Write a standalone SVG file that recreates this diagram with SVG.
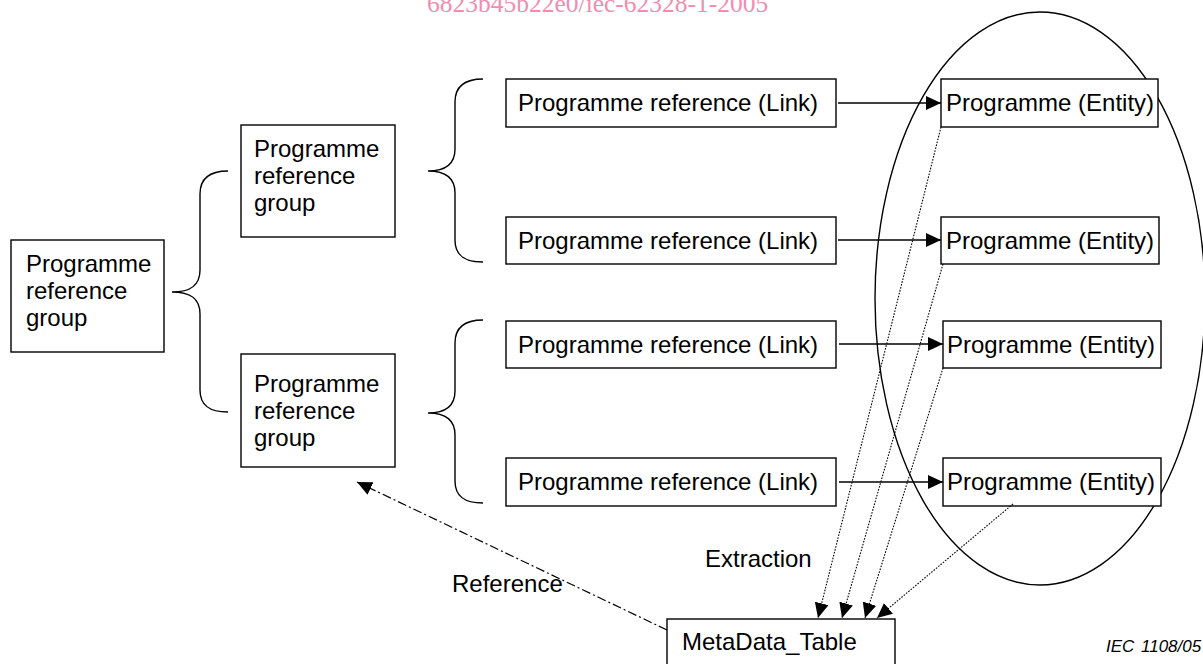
<svg xmlns="http://www.w3.org/2000/svg" width="1203" height="664" viewBox="0 0 1203 664">
<style>
.box{fill:#fff;stroke:#000;stroke-width:1.4}
.t{font-family:"Liberation Sans",Arial,sans-serif;font-size:24px;fill:#000}
.brace{fill:none;stroke:#000;stroke-width:1.4}
.arr{fill:none;stroke:#000;stroke-width:1.4}
.dot{fill:none;stroke:#000;stroke-width:1.1;stroke-dasharray:1.6 1.4}
.dd{fill:none;stroke:#000;stroke-width:1.2;stroke-dasharray:9 3 2 3}
</style>
<defs>
<marker id="ah" markerUnits="userSpaceOnUse" markerWidth="16" markerHeight="14" refX="15" refY="7" orient="auto">
<path d="M0,0 L15,7 L0,14 Z" fill="#000"/>
</marker>
</defs>
<rect width="1203" height="664" fill="#fff"/>
<text x="427" y="12" style="font-family:'Liberation Serif','Times New Roman',serif;font-size:25.5px;fill:#f08db0">6823b45b22e0/iec-62328-1-2005</text>
<ellipse cx="1040" cy="298.5" rx="165" ry="286.5" fill="none" stroke="#000" stroke-width="1.4"/>
<g id="braces">
<path class="brace" d="M228,171 C210,171 200,178 200,194 L200,270 C200,286 190,292 172,292 C190,292 200,298 200,314 L200,390 C200,406 210,412 228,412"/>
<path class="brace" d="M483,79 C465,79 455,86 455,102 L455,149 C455,165 445,171 428,171 C445,171 455,177 455,193 L455,240 C455,256 465,262 483,262"/>
<path class="brace" d="M483,320 C465,320 455,327 455,343 L455,391 C455,407 445,413 428,413 C445,413 455,419 455,435 L455,481 C455,497 465,503 483,503"/>
</g>
<g id="n_root"><rect class="box" x="11" y="240" width="153" height="112"/>
<text class="t" x="26" y="272">Programme</text><text class="t" x="26" y="299">reference</text><text class="t" x="26" y="326">group</text></g>
<g id="n_group1"><rect class="box" x="241" y="125" width="154" height="112"/>
<text class="t" x="254" y="157">Programme</text><text class="t" x="254" y="184">reference</text><text class="t" x="254" y="211">group</text></g>
<g id="n_group2"><rect class="box" x="241" y="354" width="154" height="113"/>
<text class="t" x="254" y="392">Programme</text><text class="t" x="254" y="419">reference</text><text class="t" x="254" y="446">group</text></g>
<g id="n_link1"><rect class="box" x="506" y="79" width="330" height="48"/><text class="t" x="518" y="111">Programme reference (Link)</text></g>
<g id="n_link2"><rect class="box" x="506" y="217" width="330" height="47"/><text class="t" x="518" y="249">Programme reference (Link)</text></g>
<g id="n_link3"><rect class="box" x="506" y="321" width="330" height="47"/><text class="t" x="518" y="353">Programme reference (Link)</text></g>
<g id="n_link4"><rect class="box" x="506" y="458" width="330" height="48"/><text class="t" x="518" y="490">Programme reference (Link)</text></g>
<g id="n_ent1"><rect class="box" x="941" y="79" width="217" height="48"/><text class="t" x="946" y="111">Programme (Entity)</text></g>
<g id="n_ent2"><rect class="box" x="941" y="217" width="218" height="47"/><text class="t" x="946" y="249">Programme (Entity)</text></g>
<g id="n_ent3"><rect class="box" x="943" y="321" width="218" height="47"/><text class="t" x="947" y="353">Programme (Entity)</text></g>
<g id="n_ent4"><rect class="box" x="943" y="458" width="218" height="48"/><text class="t" x="947" y="490">Programme (Entity)</text></g>
<g id="n_meta"><rect class="box" x="667" y="619" width="228" height="60"/><text class="t" x="682" y="650">MetaData_Table</text></g>
<g id="connectors">
<line class="arr" x1="838" y1="103" x2="941" y2="103" marker-end="url(#ah)"/>
<line class="arr" x1="838" y1="240" x2="941" y2="240" marker-end="url(#ah)"/>
<line class="arr" x1="839" y1="344" x2="943" y2="344" marker-end="url(#ah)"/>
<line class="arr" x1="839" y1="482" x2="943" y2="482" marker-end="url(#ah)"/>
<line class="dot" x1="941" y1="127" x2="818" y2="618" marker-end="url(#ah)"/>
<line class="dot" x1="943" y1="264" x2="842" y2="618" marker-end="url(#ah)"/>
<line class="dot" x1="943" y1="368" x2="865" y2="618" marker-end="url(#ah)"/>
<line class="dot" x1="1013" y1="504" x2="877" y2="618" marker-end="url(#ah)"/>
<line class="dd" x1="667" y1="630" x2="357" y2="482" marker-end="url(#ah)"/>
</g>
<text class="t" x="705" y="567">Extraction</text>
<text class="t" x="452" y="592">Reference</text>
<text style="font-family:'Liberation Sans',Arial,sans-serif;font-size:17px;font-style:italic;fill:#000" x="1106" y="652">IEC<tspan x="1141">1108/05</tspan></text>
</svg>
